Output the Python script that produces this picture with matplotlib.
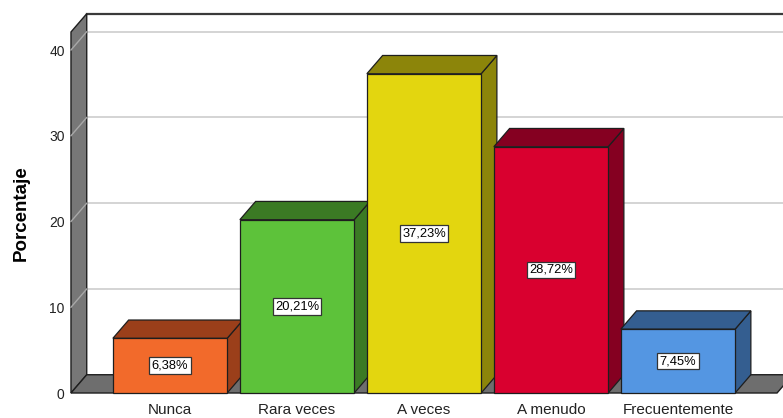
import matplotlib
matplotlib.use("Agg")
import matplotlib.pyplot as plt
from matplotlib.patches import Polygon, Rectangle

plt.rcParams['font.family'] = ['Liberation Sans', 'DejaVu Sans']

# Data
categories = ["Nunca", "Rara veces", "A veces", "A menudo", "Frecuentemente"]
values = [6.38, 20.21, 37.23, 28.72, 7.45]
value_labels = ["6,38%", "20,21%", "37,23%", "28,72%", "7,45%"]
y_ticks = [0, 10, 20, 30, 40]
y_label = "Porcentaje"

front_colors = ["#F26A2B", "#5DC23A", "#E3D60F", "#D9002F", "#5496E2"]
shade_colors = ["#9B3F1A", "#3B7A24", "#8C850A", "#850021", "#345E90"]

# 3D frame geometry (data units)
X0, X1 = -0.78, 4.78        # front plane extent along categories
YMAX = 42.1                 # top of the walls
DX, DY = 0.124, 2.13        # depth offset of the back plane
BAR_W = 0.9
EDGE = "#1E1E1E"
WALL = "#777777"
GRID = "#CDCDCD"

fig = plt.figure(figsize=(7.83, 4.18), dpi=100)
ax = fig.add_axes([0, 0, 1, 1])
ax.set_xlim(-1.339, 4.827)
ax.set_ylim(-2.915, 45.83)
ax.axis("off")

# back wall
ax.add_patch(Rectangle((X0 + DX, DY), (X1 - X0) + 2, YMAX, facecolor="white",
                       edgecolor="none", zorder=1))
ax.plot([X0 + DX, X1 + DX + 2], [YMAX + DY, YMAX + DY], color="#3A3A3A", lw=1.6, zorder=2)
for t in y_ticks[1:]:
    ax.plot([X0 + DX, X1 + DX + 2], [t + DY, t + DY], color=GRID, lw=1.2, zorder=2)

# left wall
ax.add_patch(Polygon([(X0, 0), (X0, YMAX), (X0 + DX, YMAX + DY), (X0 + DX, DY)],
                     closed=True, facecolor=WALL, edgecolor=EDGE, lw=1.0, zorder=3))
for t in y_ticks[1:]:
    ax.plot([X0, X0 + DX], [t, t + DY], color="#A8A8A8", lw=1.0, zorder=3.5)

# floor
ax.add_patch(Polygon([(X0, 0), (X1, 0), (X1 + DX, DY), (X0 + DX, DY)],
                     closed=True, facecolor="#6E6E6E", edgecolor=EDGE, lw=1.0, zorder=3))

# bars
for i, (v, fc, sc, lab) in enumerate(zip(values, front_colors, shade_colors, value_labels)):
    z = 5 + i
    l, r = i - BAR_W / 2, i + BAR_W / 2
    ax.add_patch(Polygon([(r, 0), (r, v), (r + DX, v + DY), (r + DX, DY)], closed=True,
                         facecolor=sc, edgecolor=EDGE, lw=0.9, zorder=z))
    ax.add_patch(Polygon([(l, v), (r, v), (r + DX, v + DY), (l + DX, v + DY)], closed=True,
                         facecolor=sc, edgecolor=EDGE, lw=0.9, zorder=z))
    ax.add_patch(Rectangle((l, 0), BAR_W, v, facecolor=fc, edgecolor=EDGE, lw=0.9, zorder=z))
    ax.text(i, v / 2, lab, ha="center", va="center", fontsize=9.3, color="black", zorder=z + 0.5,
            bbox=dict(boxstyle="square,pad=0.18", facecolor="white", edgecolor="#333333", lw=0.9))
    ax.text(i, -2.0, categories[i], ha="center", va="center", fontsize=11, color="#222222",
            zorder=20)

# y axis ticks
for t in y_ticks:
    ax.text(-0.83, t - 0.2, str(t), ha="right", va="center", fontsize=10, color="#222222")

ax.text(-1.175, 21.0, y_label, rotation=90, ha="center", va="center",
        fontsize=13.5, fontweight="bold", color="black")

fig.savefig("out.png", dpi=100)
